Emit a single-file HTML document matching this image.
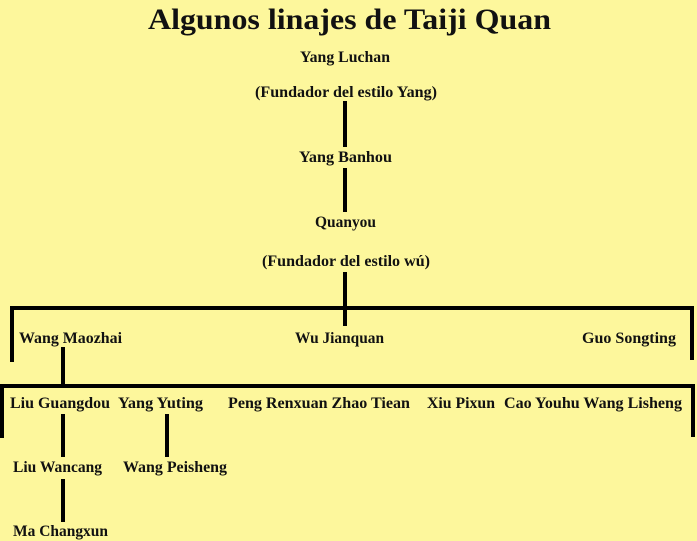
<!DOCTYPE html>
<html><head><meta charset="utf-8"><style>
html,body{margin:0;padding:0;background:#fdf79c;}
svg{display:block}
text{font-family:"Liberation Serif",serif;font-weight:bold;fill:#111;font-size:15.5px}
</style></head><body>
<svg width="697" height="541" viewBox="0 0 697 541" xmlns="http://www.w3.org/2000/svg">
<rect width="697" height="541" fill="#fdf79c"/>
<text x="148" y="29" style="font-size:30px" textLength="403" lengthAdjust="spacingAndGlyphs">Algunos linajes de Taiji Quan</text>
<text x="300" y="62" textLength="90" lengthAdjust="spacingAndGlyphs">Yang Luchan</text>
<text x="255" y="97" textLength="182" lengthAdjust="spacingAndGlyphs">(Fundador del estilo Yang)</text>
<text x="299" y="162" textLength="93" lengthAdjust="spacingAndGlyphs">Yang Banhou</text>
<text x="315" y="227" textLength="61" lengthAdjust="spacingAndGlyphs">Quanyou</text>
<text x="262" y="266" textLength="168" lengthAdjust="spacingAndGlyphs">(Fundador del estilo wú)</text>
<text x="19" y="343" textLength="103" lengthAdjust="spacingAndGlyphs">Wang Maozhai</text>
<text x="295" y="343" textLength="89" lengthAdjust="spacingAndGlyphs">Wu Jianquan</text>
<text x="582" y="343" textLength="94" lengthAdjust="spacingAndGlyphs">Guo Songting</text>
<text x="10" y="408" textLength="100" lengthAdjust="spacingAndGlyphs">Liu Guangdou</text>
<text x="118" y="408" textLength="85" lengthAdjust="spacingAndGlyphs">Yang Yuting</text>
<text x="228" y="408" textLength="182" lengthAdjust="spacingAndGlyphs">Peng Renxuan Zhao Tiean</text>
<text x="427" y="408" textLength="68" lengthAdjust="spacingAndGlyphs">Xiu Pixun</text>
<text x="504" y="408" textLength="178" lengthAdjust="spacingAndGlyphs">Cao Youhu Wang Lisheng</text>
<text x="13" y="472" textLength="89" lengthAdjust="spacingAndGlyphs">Liu Wancang</text>
<text x="123" y="472" textLength="104" lengthAdjust="spacingAndGlyphs">Wang Peisheng</text>
<text x="13" y="536" textLength="95" lengthAdjust="spacingAndGlyphs">Ma Changxun</text>
<g stroke="#000" stroke-width="4" fill="none">
<line x1="345" y1="101" x2="345" y2="147"/>
<line x1="345" y1="168" x2="345" y2="212"/>
<line x1="345" y1="272" x2="345" y2="326"/>
<polyline points="12,362 12,308 692,308 692,360"/>
<line x1="63" y1="347" x2="63" y2="386"/>
<polyline points="2,438 2,386 693,386 693,437"/>
<line x1="63" y1="414" x2="63" y2="457"/>
<line x1="167" y1="414" x2="167" y2="457"/>
<line x1="63" y1="479" x2="63" y2="522"/>
</g>
</svg>
</body></html>
